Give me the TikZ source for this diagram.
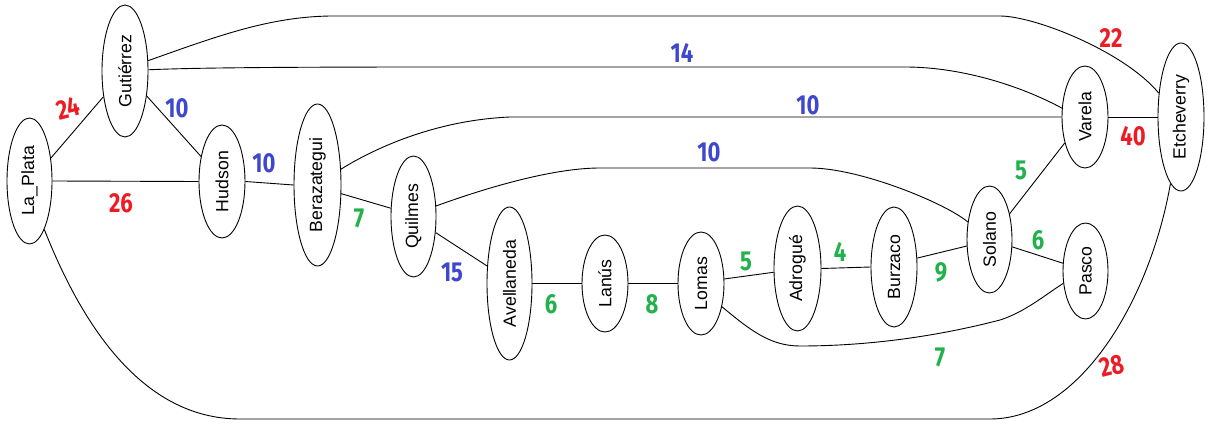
\documentclass[tikz,border=0pt]{standalone}
\usepackage{fontspec}
\setmainfont{Liberation Sans}
\newfontfamily\wtfamily{Fira Sans}
\usetikzlibrary{shapes.geometric}
\definecolor{wred}{RGB}{237,28,36}
\definecolor{wblue}{RGB}{63,72,204}
\definecolor{wgreen}{RGB}{34,177,76}
\newcommand{\wlab}[1]{\scalebox{1}[1.25]{#1}}
\tikzset{
  stn/.style={draw, ellipse, inner sep=0pt, line width=0.9pt, font=\fontsize{17.7}{20}\selectfont},
  conn/.style={line width=0.9pt},
  wt/.style={inner sep=0pt, font=\wtfamily\bfseries\fontsize{22}{24}\selectfont},
  wr/.style={wt, text=wred},
  wb/.style={wt, text=wblue},
  wg/.style={wt, text=wgreen}
}
\begin{document}
\begin{tikzpicture}[x=1pt, y=-1pt]
\useasboundingbox[fill=white] (0,0) rectangle (1211,425);
% stations
\node[stn, minimum width=45pt, minimum height=126pt] (lp) at (29.5,181) {\rotatebox{90}{La\_Plata}};
\node[stn, minimum width=46pt, minimum height=132pt] (gu) at (125,71) {\rotatebox{90}{Gutiérrez}};
\node[stn, minimum width=46pt, minimum height=113pt] (hu) at (222,181.5) {\rotatebox{90}{Hudson}};
\node[stn, minimum width=47pt, minimum height=162pt] (be) at (317.5,185) {\rotatebox{90}{Berazategui}};
\node[stn, minimum width=45pt, minimum height=121pt] (qu) at (413.5,216.5) {\rotatebox{90}{Quilmes}};
\node[stn, minimum width=45pt, minimum height=153pt] (av) at (509.5,283.5) {\rotatebox{90}{Avellaneda}};
\node[stn, minimum width=46pt, minimum height=97pt] (la) at (605,283.5) {\rotatebox{90}{Lanús}};
\node[stn, minimum width=46pt, minimum height=103pt] (lo) at (701,283.5) {\rotatebox{90}{Lomas}};
\node[stn, minimum width=47pt, minimum height=125pt] (ad) at (797.5,268.5) {\rotatebox{90}{Adrogué}};
\node[stn, minimum width=46pt, minimum height=120pt] (bu) at (894,267) {\rotatebox{90}{Burzaco}};
\node[stn, minimum width=45pt, minimum height=107pt] (so) at (989.5,239.5) {\rotatebox{90}{Solano}};
\node[stn, minimum width=46pt, minimum height=102pt] (va) at (1085,117) {\rotatebox{90}{Varela}};
\node[stn, minimum width=46pt, minimum height=148pt] (et) at (1181,117) {\rotatebox{90}{Etcheverry}};
\node[stn, minimum width=45pt, minimum height=96pt] (pa) at (1085.5,271) {\rotatebox{90}{Pasco}};
% connectors
\draw[conn] (lp.47) -- (gu.230);
\draw[conn] (gu.311) -- (hu.130);
\draw[conn] (lp.east) -- (hu.west);
\draw[conn] (hu.east) -- (be.west);
\draw[conn] (be.-20) -- (qu.160);
\draw[conn] (qu.-36) -- (av.142);
\draw[conn] (av.east) -- (la.west);
\draw[conn] (la.east) -- (lo.west);
\draw[conn] (lo.11) -- (ad.189);
\draw[conn] (ad.east) -- (bu.west);
\draw[conn] (bu.21) -- (so.196);
\draw[conn] (so.52) -- (va.232);
\draw[conn] (so.-18) -- (pa.161);
\draw[conn] (va.east) -- (et.west);
\draw[conn] (gu.3) .. controls (200,67.5) and (300,67) .. (450,67) -- (905,67)
  .. controls (965,67) and (1025,88) .. (va.159);
\draw[conn] (gu.24) .. controls (220,35) and (270,17) .. (330,16) -- (1000,16)
  .. controls (1035,16) and (1125,52) .. (et.133);
\draw[conn] (be.34) .. controls (380,145) and (440,120) .. (510,117) -- (va.west);
\draw[conn] (qu.25) .. controls (480,190) and (550,168) .. (600,168) -- (810,168)
  .. controls (860,168) and (945,203) .. (so.141);
\draw[conn] (lo.-48) .. controls (750,330) and (770,346) .. (800,346)
  .. controls (880,346) and (950,333) .. (1000,320)
  .. controls (1025,312) and (1045,295) .. (pa.209);
\draw[conn] (lp.-73) .. controls (80,320) and (140,419) .. (240,419) -- (990,419)
  .. controls (1080,419) and (1150,300) .. (et.261);
% weights
\node[wr, rotate=14] (w24) at (68,108) {\wlab{24}};
\node[wb] (w10a) at (177,108) {\wlab{10}};
\node[wr] (w26) at (121,203) {\wlab{26}};
\node[wb] (w10b) at (264,163) {\wlab{10}};
\node[wg] (w7a) at (359,218) {\wlab{7}};
\node[wb] (w14) at (682,53) {\wlab{14}};
\node[wb] (w10c) at (808,105) {\wlab{10}};
\node[wb] (w10d) at (709,152) {\wlab{10}};
\node[wb] (w15) at (452,272) {\wlab{15}};
\node[wg] (w6a) at (551,304) {\wlab{6}};
\node[wg] (w8) at (652,304) {\wlab{8}};
\node[wg] (w5a) at (746,261) {\wlab{5}};
\node[wg] (w4) at (840,252) {\wlab{4}};
\node[wg] (w9) at (941,272) {\wlab{9}};
\node[wg] (w7b) at (940,357) {\wlab{7}};
\node[wg] (w5b) at (1021,170) {\wlab{5}};
\node[wg] (w6b) at (1038,240) {\wlab{6}};
\node[wr] (w22) at (1111,38) {\wlab{22}};
\node[wr] (w40) at (1133,136) {\wlab{40}};
\node[wr, rotate=14] (w28) at (1112,366) {\wlab{28}};
\end{tikzpicture}
\end{document}
